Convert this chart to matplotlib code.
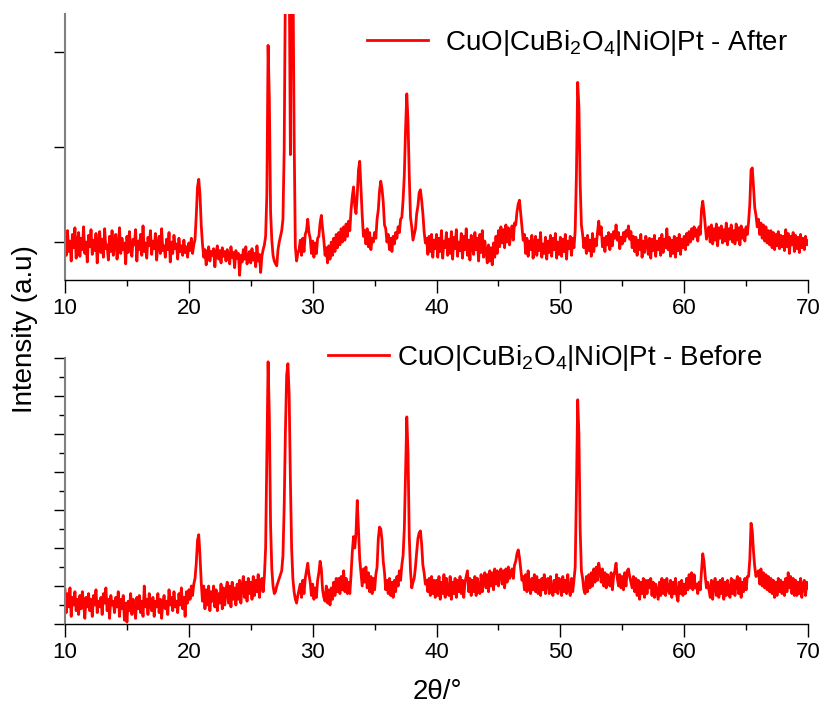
import numpy as np
import matplotlib.pyplot as plt
from matplotlib.ticker import MultipleLocator

plt.rcParams['font.family'] = ['Liberation Sans', 'DejaVu Sans']
plt.rcParams['mathtext.fontset'] = 'custom'
plt.rcParams['mathtext.rm'] = 'Liberation Sans'

# 2theta sampling, 0.1 deg steps from 10 to 70
two_theta = np.round(10 + 0.1 * np.arange(601), 1)

# intensities (a.u.), one row per degree
after_counts = [
    104, 86, 112, 90, 101, 80, 108, 94, 115, 83,
    99, 110, 85, 104, 92, 116, 88, 100, 79, 107,
    95, 113, 87, 102, 91, 109, 78, 98, 111, 89,
    103, 84, 114, 93, 97, 81, 106, 90, 112, 86,
    100, 108, 82, 95, 115, 88, 104, 92, 99, 77,
    106, 89, 111, 94, 85, 103, 97, 113, 80, 101,
    92, 108, 86, 117, 90, 99, 83, 105, 96, 112,
    87, 101, 93, 109, 81, 98, 106, 88, 114, 91,
    96, 84, 103, 92, 110, 79, 100, 88, 107, 93,
    98, 82, 104, 90, 96, 86, 102, 89, 95, 84,
    99, 91, 104, 88, 97, 103, 128, 158, 166, 150,   # 20
    118, 98, 84, 92, 76, 88, 95, 80, 90, 86,
    93, 74, 89, 96, 82, 91, 78, 94, 85, 90,
    80, 92, 86, 77, 95, 84, 89, 73, 91, 83,
    88, 65, 86, 79, 92, 82, 95, 77, 84, 90,
    78, 93, 81, 88, 74, 96, 80, 87, 68, 85,
    92, 97, 106, 150, 307, 252, 132, 102, 86, 80,
    77, 75, 92, 100, 106, 112, 124, 198, 380, 420,
    450, 400, 192, 430, 400, 215, 95, 80, 88, 92,
    102, 86, 104, 90, 108, 112, 124, 110, 104, 88,
    101, 84, 99, 88, 104, 106, 120, 128, 114, 102,  # 30
    86, 94, 78, 96, 82, 100, 86, 104, 90, 108,
    94, 110, 97, 114, 100, 116, 102, 119, 106, 122,
    112, 134, 148, 158, 138, 130, 150, 176, 185, 156,
    128, 106, 112, 98, 114, 95, 110, 92, 104, 100,
    110, 104, 124, 134, 154, 164, 156, 142, 118, 114,
    100, 108, 92, 104, 90, 106, 98, 110, 104, 116,
    110, 124, 126, 144, 170, 218, 256, 226, 170, 126,
    116, 102, 108, 114, 130, 138, 152, 155, 144, 130,
    111, 99, 104, 87, 106, 90, 108, 84, 102, 93,
    108, 84, 104, 90, 112, 83, 101, 94, 110, 86,    # 40
    103, 88, 111, 82, 105, 93, 113, 85, 100, 91,
    109, 83, 106, 92, 114, 86, 102, 81, 107, 95,
    87, 110, 92, 104, 80, 108, 89, 112, 84, 101,
    90, 78, 97, 80, 94, 76, 99, 84, 106, 88,
    112, 95, 116, 99, 113, 94, 118, 100, 115, 97,
    109, 117, 102, 120, 118, 132, 140, 144, 130, 117,
    102, 108, 88, 104, 85, 101, 92, 107, 83, 99,
    106, 86, 102, 91, 110, 84, 98, 88, 105, 82,
    101, 89, 107, 85, 104, 92, 109, 83, 100, 87,
    105, 85, 103, 90, 108, 82, 101, 93, 106, 86,    # 50
    104, 94, 112, 172, 268, 242, 162, 118, 108, 94,
    104, 88, 107, 91, 102, 85, 109, 90, 103, 96,
    110, 122, 108, 116, 95, 104, 90, 106, 97, 110,
    92, 108, 96, 111, 104, 118, 102, 110, 93, 105,
    98, 110, 101, 112, 106, 117, 103, 111, 94, 106,
    90, 105, 86, 102, 92, 108, 84, 101, 89, 106,
    100, 87, 104, 83, 103, 91, 107, 85, 101, 92,
    104, 86, 108, 89, 103, 94, 114, 92, 105, 85,
    102, 88, 106, 84, 104, 91, 108, 87, 103, 94,
    106, 92, 109, 97, 111, 100, 114, 103, 116, 106,  # 60
    113, 101, 116, 108, 134, 143, 132, 117, 103, 111,
    116, 100, 118, 98, 114, 102, 119, 96, 115, 104,
    117, 99, 113, 101, 120, 97, 114, 103, 118, 100,
    112, 98, 119, 102, 115, 97, 117, 104, 113, 101,
    116, 108, 121, 140, 176, 178, 158, 136, 128, 116,
    124, 108, 120, 104, 118, 101, 116, 99, 112, 97,
    112, 94, 110, 92, 108, 96, 111, 93, 107, 95,
    106, 91, 113, 95, 109, 88, 106, 97, 110, 90,
    107, 93, 105, 89, 108, 94, 104, 92, 106, 97,
    101,
]

before_counts = [
    18, 6, 16, 9, 19, 4, 14, 10, 17, 7,
    13, 5, 15, 8, 17, 11, 3, 14, 9, 16,
    7, 13, 4, 15, 10, 18, 6, 12, 9, 14,
    5, 16, 11, 19, 7, 13, 3, 15, 10, 12,
    6, 14, 9, 17, 4, 13, 8, 15, 2, 11,
    1, 12, 7, 16, 5, 13, 9, 3, 14, 8,
    15, 6, 12, 4, 20, 9, 13, 5, 16, 10,
    7, 14, 4, 12, 9, 16, 6, 13, 3, 11,
    15, 8, 12, 5, 18, 10, 14, 7, 17, 9,
    12, 6, 16, 10, 19, 8, 14, 4, 17, 11,
    18, 13, 20, 15, 21, 24, 32, 44, 47, 36,      # 20
    22, 12, 20, 8, 18, 10, 20, 7, 17, 12,
    20, 9, 18, 7, 16, 11, 21, 8, 19, 10,
    18, 22, 11, 20, 9, 22, 13, 19, 10, 21,
    13, 23, 11, 20, 25, 14, 22, 12, 24, 16,
    22, 13, 25, 15, 23, 17, 26, 14, 22, 24,
    17, 25, 40, 90, 138, 110, 52, 29, 20, 16,
    17, 20, 22, 24, 26, 28, 36, 62, 102, 131,
    137, 121, 76, 40, 24, 17, 13, 11, 15, 18,
    21, 14, 23, 16, 24, 28, 32, 26, 22, 15,
    21, 13, 19, 14, 23, 27, 33, 29, 18, 14,      # 30
    12, 20, 11, 18, 10, 19, 13, 22, 15, 24,
    17, 24, 16, 25, 18, 28, 17, 24, 16, 22,
    16, 26, 38, 46, 40, 48, 65, 50, 34, 27,
    20, 29, 22, 30, 19, 27, 17, 25, 16, 24,
    18, 26, 30, 45, 51, 50, 44, 33, 27, 18,
    23, 16, 24, 15, 22, 14, 23, 17, 25, 20,
    28, 23, 31, 36, 50, 80, 109, 90, 46, 28,
    19, 22, 24, 30, 38, 45, 48, 49, 42, 31,
    27, 21, 23, 17, 24, 15, 25, 16, 23, 14,
    23, 15, 25, 13, 22, 16, 26, 14, 24, 17,      # 40
    15, 25, 13, 22, 16, 24, 14, 23, 17, 25,
    16, 23, 14, 22, 25, 28, 17, 24, 15, 23,
    17, 25, 15, 24, 18, 16, 26, 17, 24, 27,
    19, 26, 17, 28, 20, 27, 18, 29, 21, 28,
    20, 27, 29, 21, 28, 19, 29, 22, 30, 24,
    26, 29, 24, 31, 33, 37, 39, 35, 29, 23,
    25, 18, 26, 17, 28, 19, 16, 24, 18, 26,
    17, 25, 16, 23, 15, 24, 18, 26, 16, 23,
    24, 16, 25, 18, 15, 23, 17, 26, 16, 24,
    22, 15, 25, 17, 23, 16, 26, 18, 15, 24,      # 50
    17, 23, 30, 70, 118, 100, 50, 28, 24, 18,
    16, 25, 17, 26, 19, 27, 20, 29, 22, 30,
    23, 32, 28, 22, 29, 20, 27, 19, 26, 24,
    20, 27, 18, 25, 28, 32, 24, 20, 26, 19,
    25, 18, 27, 20, 28, 29, 25, 22, 19, 25,
    17, 24, 15, 23, 13, 22, 16, 24, 14, 23,
    16, 23, 19, 24, 15, 22, 14, 21, 17, 13,
    22, 15, 24, 16, 23, 15, 24, 18, 16, 23,
    14, 22, 16, 24, 15, 12, 22, 16, 23, 15,
    21, 16, 24, 18, 26, 19, 27, 18, 26, 19,      # 60
    21, 16, 22, 18, 28, 37, 33, 25, 19, 22,
    18, 14, 23, 13, 21, 24, 15, 22, 14, 23,
    16, 24, 13, 22, 15, 23, 17, 14, 24, 16,
    23, 15, 22, 25, 16, 24, 14, 22, 17, 24,
    18, 25, 25, 34, 53, 49, 38, 30, 25, 27,
    28, 21, 29, 20, 27, 19, 26, 18, 25, 17,
    24, 16, 23, 14, 22, 15, 24, 17, 23, 16,
    22, 15, 24, 17, 27, 19, 25, 16, 24, 15,
    23, 15, 22, 16, 24, 14, 21, 23, 15, 22,
    19,
]

assert len(after_counts) == len(two_theta)
assert len(before_counts) == len(two_theta)

labels = ['CuO|CuBi$_\\mathregular{2}$O$_\\mathregular{4}$|NiO|Pt - After',
          'CuO|CuBi$_\\mathregular{2}$O$_\\mathregular{4}$|NiO|Pt - Before']

fig = plt.figure(figsize=(8.25, 7.12), dpi=100)
ax_top = fig.add_axes([0.0788, 0.6067, 0.9006, 0.3736])
ax_bot = fig.add_axes([0.0788, 0.1236, 0.9006, 0.3736])

for ax, counts, lab in [(ax_top, after_counts, labels[0]),
                        (ax_bot, before_counts, labels[1])]:
    ax.plot(two_theta, counts, color='#ff0000', lw=2.0, label=lab)
    ax.set_xlim(10, 70)
    ax.spines['top'].set_visible(False)
    ax.spines['right'].set_visible(False)
    ax.spines['left'].set_color('#808080')
    ax.spines['left'].set_linewidth(1.5)
    ax.spines['bottom'].set_color('black')
    ax.spines['bottom'].set_linewidth(1.0)
    ax.xaxis.set_major_locator(MultipleLocator(10))
    ax.xaxis.set_minor_locator(MultipleLocator(5))
    ax.tick_params(axis='x', which='major', length=9, width=1, labelsize=16, pad=4)
    ax.tick_params(axis='x', which='minor', length=4.5, width=1)
    ax.tick_params(axis='y', which='both', labelleft=False, width=1)

ax_top.set_ylim(60, 340)
ax_top.set_yticks([100, 200, 300])
ax_top.tick_params(axis='y', which='major', length=8)

ax_bot.set_ylim(0, 140)
ax_bot.yaxis.set_major_locator(MultipleLocator(20))
ax_bot.yaxis.set_minor_locator(MultipleLocator(10))
ax_bot.tick_params(axis='y', which='major', length=8)
ax_bot.tick_params(axis='y', which='minor', length=4)

ax_top.legend(loc='center left', bbox_to_anchor=(0.4448, 0.9396),
              bbox_transform=fig.transFigure, frameon=False, fontsize=20,
              handlelength=2.2, handletextpad=0.6, borderpad=0, borderaxespad=0)
ax_bot.legend(loc='center left', bbox_to_anchor=(0.3976, 0.4972),
              bbox_transform=fig.transFigure, frameon=False, fontsize=20,
              handlelength=2.2, handletextpad=0.3, borderpad=0, borderaxespad=0)

fig.text(0.030, 0.538, 'Intensity (a.u)', rotation=90, fontsize=20,
         ha='center', va='center')
fig.text(0.53, 0.028, '2θ/°', fontsize=20, ha='center', va='center')

fig.savefig('out.png', dpi=100)
